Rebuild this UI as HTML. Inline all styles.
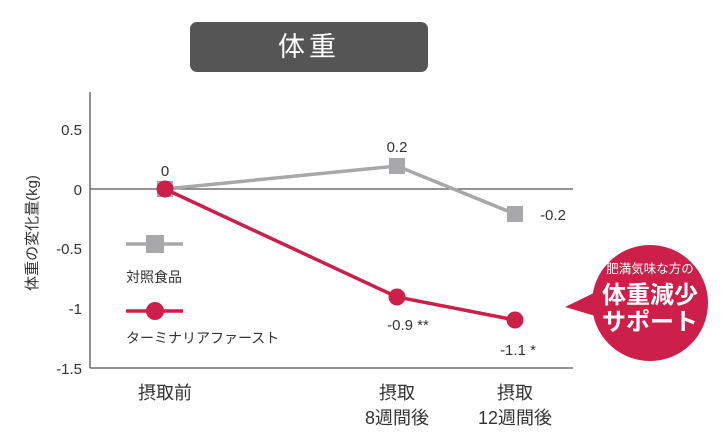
<!DOCTYPE html>
<html><head><meta charset="utf-8"><style>
body{margin:0;background:#fff;}
svg{display:block;font-family:"Liberation Sans","Noto Sans CJK JP",sans-serif;}
</style></head><body>
<svg width="725" height="444" viewBox="0 0 725 444">
<rect x="190" y="22" width="238" height="50" rx="7" fill="#555556"/>
<text x="309" y="56" font-size="27" fill="#fff" text-anchor="middle" letter-spacing="4">体重</text>
<line x1="90" y1="92" x2="90" y2="368" stroke="#555" stroke-width="1.3"/>
<line x1="90" y1="368" x2="573" y2="368" stroke="#555" stroke-width="1.3"/>
<line x1="90" y1="189" x2="573" y2="189" stroke="#555" stroke-width="1.3"/>
<g font-size="15" fill="#333" text-anchor="end">
<text x="82" y="135">0.5</text>
<text x="82" y="195">0</text>
<text x="82" y="254">-0.5</text>
<text x="82" y="314">-1</text>
<text x="82" y="374">-1.5</text>
</g>
<text transform="translate(37,233) rotate(-90)" font-size="15" fill="#333" text-anchor="middle">体重の変化量(kg)</text>
<polyline points="165,189 397,166 515,214" fill="none" stroke="#a8a8aa" stroke-width="3.5"/>
<rect x="157" y="181" width="16" height="16" fill="#a8a8aa"/>
<rect x="389" y="158" width="16" height="16" fill="#a8a8aa"/>
<rect x="507" y="206" width="16" height="16" fill="#a8a8aa"/>
<polyline points="165,189 397,297 515,320" fill="none" stroke="#cc1f4a" stroke-width="3.5"/>
<circle cx="165" cy="189" r="8.5" fill="#cc1f4a"/>
<circle cx="397" cy="297" r="8.5" fill="#cc1f4a"/>
<circle cx="515" cy="320" r="8.5" fill="#cc1f4a"/>
<g font-size="15" fill="#333" text-anchor="middle">
<text x="165" y="176">0</text>
<text x="397" y="152">0.2</text>
<text x="553" y="220">-0.2</text>
<text x="408" y="330">-0.9 **</text>
<text x="518" y="355">-1.1 *</text>
</g>
<line x1="126" y1="244" x2="183" y2="244" stroke="#a8a8aa" stroke-width="3.5"/>
<rect x="146" y="235" width="18" height="18" fill="#a8a8aa"/>
<text x="126" y="282" font-size="14" fill="#333">対照食品</text>
<line x1="126" y1="311" x2="183" y2="311" stroke="#cc1f4a" stroke-width="3.5"/>
<circle cx="155" cy="311" r="9" fill="#cc1f4a"/>
<text x="126" y="343" font-size="14" fill="#333">ターミナリアファースト</text>
<g font-size="18" fill="#333" text-anchor="middle">
<text x="165" y="399">摂取前</text>
<text x="397" y="399">摂取</text>
<text x="397" y="424">8週間後</text>
<text x="515" y="399">摂取</text>
<text x="515" y="424">12週間後</text>
</g>
<circle cx="650" cy="303" r="58" fill="#cc1f4a"/>
<polygon points="565,307 600,290 602,318" fill="#cc1f4a"/>
<text x="650" y="273" font-size="12.5" fill="#fff" text-anchor="middle">肥満気味な方の</text>
<text x="650" y="303" font-size="24" fill="#fff" text-anchor="middle" font-weight="bold">体重減少</text>
<text x="650" y="330" font-size="24" fill="#fff" text-anchor="middle" font-weight="bold">サポート</text>
</svg>
</body></html>
